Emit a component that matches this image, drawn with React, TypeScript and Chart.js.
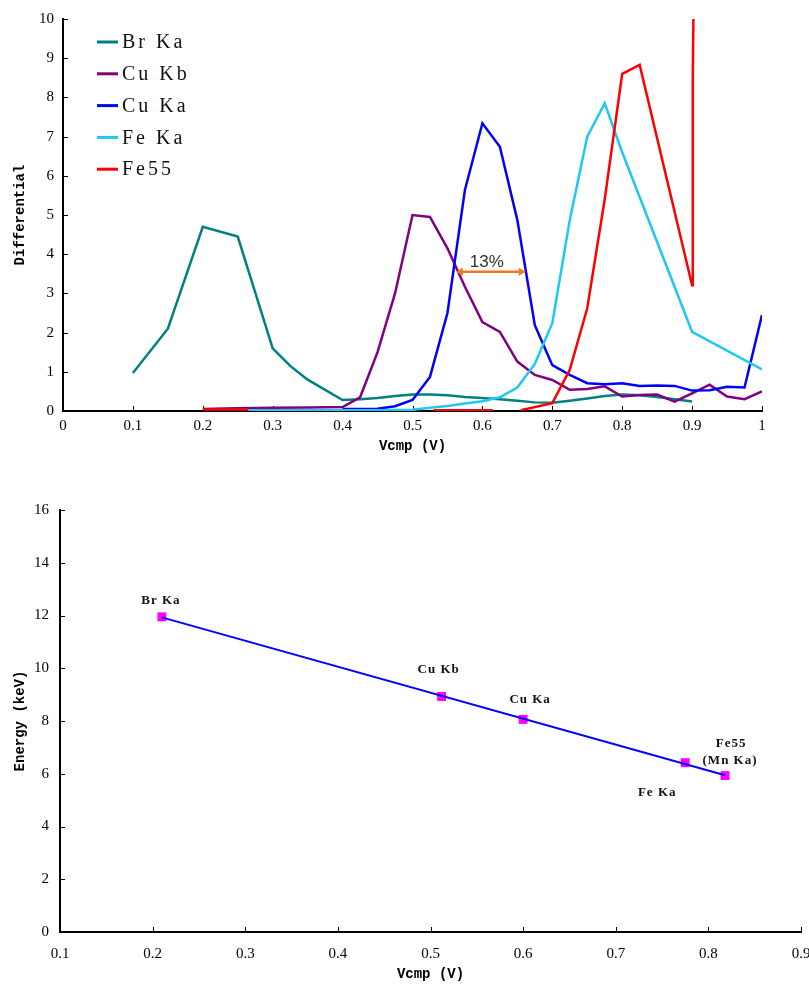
import React, { useEffect, useRef } from 'react';
import { Chart, registerables } from 'chart.js';

Chart.register(...registerables);

// ---------- Top chart data (Differential vs Vcmp) ----------
const seriesNames = ['Br Ka', 'Cu Kb', 'Cu Ka', 'Fe Ka', 'Fe55'];
const seriesColors = ['#008080', '#800080', '#0000ff', '#1ec8f0', '#ff0000'];

const brKaX = [0.1, 0.15, 0.2, 0.25, 0.3, 0.325, 0.35, 0.4, 0.425, 0.45, 0.475, 0.5, 0.525, 0.55, 0.575, 0.6, 0.625, 0.65, 0.675, 0.7, 0.725, 0.75, 0.775, 0.8, 0.825, 0.85, 0.875, 0.9];
const brKaY = [0.97, 2.1, 4.7, 4.45, 1.6, 1.15, 0.8, 0.28, 0.3, 0.33, 0.38, 0.42, 0.42, 0.4, 0.36, 0.33, 0.3, 0.26, 0.22, 0.21, 0.26, 0.32, 0.38, 0.42, 0.4, 0.36, 0.3, 0.24];

const cuKbX = [0.2, 0.25, 0.3, 0.35, 0.4, 0.425, 0.45, 0.475, 0.5, 0.525, 0.55, 0.575, 0.6, 0.625, 0.65, 0.675, 0.7, 0.725, 0.75, 0.775, 0.8, 0.825, 0.85, 0.875, 0.9, 0.925, 0.95, 0.975, 1.0];
const cuKbY = [0.05, 0.07, 0.08, 0.09, 0.1, 0.35, 1.5, 3.0, 5.0, 4.95, 4.15, 3.17, 2.27, 2.02, 1.26, 0.92, 0.79, 0.54, 0.56, 0.63, 0.37, 0.41, 0.42, 0.24, 0.45, 0.67, 0.37, 0.3, 0.5];

const cuKaX = [0.4, 0.45, 0.475, 0.5, 0.525, 0.55, 0.575, 0.6, 0.625, 0.65, 0.675, 0.7, 0.725, 0.75, 0.775, 0.8, 0.825, 0.85, 0.875, 0.9, 0.925, 0.95, 0.975, 1.0];
const cuKaY = [0.05, 0.06, 0.12, 0.28, 0.87, 2.5, 5.64, 7.34, 6.74, 4.87, 2.19, 1.17, 0.92, 0.71, 0.68, 0.71, 0.64, 0.65, 0.64, 0.52, 0.53, 0.62, 0.6, 2.45];

const feKaX = [0.265, 0.3, 0.35, 0.4, 0.45, 0.5, 0.525, 0.55, 0.575, 0.6, 0.625, 0.65, 0.675, 0.7, 0.725, 0.75, 0.775, 0.8, 0.9, 1.0];
const feKaY = [0.02, 0.02, 0.02, 0.02, 0.02, 0.03, 0.08, 0.13, 0.19, 0.25, 0.35, 0.6, 1.2, 2.24, 4.87, 7.0, 7.85, 6.6, 2.02, 1.06];

const fe55X = [0.2, 0.265, 0.27, 0.53, 0.615, 0.62, 0.655, 0.7, 0.725, 0.75, 0.775, 0.8, 0.825, 0.9, 0.901, 0.903];
const fe55Y = [0.04, 0.04, null, 0.02, 0.02, null, 0.02, 0.2, 1.05, 2.62, 5.4, 8.6, 8.83, 3.21, 8.5, 12];

const seriesX = [brKaX, cuKbX, cuKaX, feKaX, fe55X];
const seriesY = [brKaY, cuKbY, cuKaY, feKaY, fe55Y];

// FWHM annotation
const arrowX = [0.562, 0.662];
const arrowY = 3.55;
const arrowLabel = '13%';

// ---------- Bottom chart data (Energy vs Vcmp) ----------
const peakNames = ['Br Ka', 'Cu Kb', 'Cu Ka', 'Fe Ka', 'Fe55'];
const peakSubNames = ['', '', '', '', '(Mn Ka)'];
const peakVcmp = [0.21, 0.512, 0.6, 0.775, 0.818];
const peakEnergy = [11.95, 8.93, 8.06, 6.42, 5.93];

const fmtTick = (v: number) => String(Math.round(Number(v) * 10) / 10);

const TICK_FONT = { family: 'Liberation Serif', size: 15 };
const TITLE_FONT = { family: 'Liberation Mono', size: 14, weight: 'bold' as const };

const innerTicks = {
  id: 'innerTicks',
  beforeDatasetsDraw(chart: any) {
    const { ctx, chartArea } = chart;
    const xs = chart.scales.x;
    const ys = chart.scales.y;
    ctx.save();
    ctx.strokeStyle = '#000';
    ctx.lineWidth = 1;
    xs.ticks.forEach((_t: any, i: number) => {
      const px = Math.round(xs.getPixelForTick(i)) + 0.5;
      ctx.beginPath();
      ctx.moveTo(px, chartArea.bottom);
      ctx.lineTo(px, chartArea.bottom - 5);
      ctx.stroke();
    });
    ys.ticks.forEach((_t: any, i: number) => {
      const py = Math.round(ys.getPixelForTick(i)) + 0.5;
      ctx.beginPath();
      ctx.moveTo(chartArea.left, py);
      ctx.lineTo(chartArea.left + 5, py);
      ctx.stroke();
    });
    ctx.restore();
  },
};

const customLegend = {
  id: 'customLegend',
  afterDraw(chart: any) {
    const { ctx, chartArea } = chart;
    ctx.save();
    ctx.font = '20px "Liberation Serif"';
    (ctx as any).letterSpacing = '3px';
    ctx.textAlign = 'left';
    ctx.textBaseline = 'middle';
    seriesNames.forEach((name, i) => {
      const y = chartArea.top + 23 + i * 31.8;
      const x0 = chartArea.left + 34;
      ctx.strokeStyle = seriesColors[i];
      ctx.lineWidth = 3;
      ctx.beginPath();
      ctx.moveTo(x0, y);
      ctx.lineTo(x0 + 21, y);
      ctx.stroke();
      ctx.fillStyle = '#111';
      ctx.fillText(name, x0 + 25, y + 1);
    });
    ctx.restore();
  },
};

const fwhmArrow = {
  id: 'fwhmArrow',
  afterDatasetsDraw(chart: any) {
    const { ctx } = chart;
    const xs = chart.scales.x;
    const ys = chart.scales.y;
    const x1 = xs.getPixelForValue(arrowX[0]);
    const x2 = xs.getPixelForValue(arrowX[1]);
    const y = ys.getPixelForValue(arrowY);
    const col = '#f07820';
    ctx.save();
    ctx.strokeStyle = col;
    ctx.fillStyle = col;
    ctx.lineWidth = 2.5;
    ctx.beginPath();
    ctx.moveTo(x1 + 4, y);
    ctx.lineTo(x2 - 4, y);
    ctx.stroke();
    const head = (xt: number, dir: number) => {
      ctx.beginPath();
      ctx.moveTo(xt, y);
      ctx.lineTo(xt + dir * 7, y - 4);
      ctx.lineTo(xt + dir * 7, y + 4);
      ctx.closePath();
      ctx.fill();
    };
    head(x1, 1);
    head(x2, -1);
    ctx.fillStyle = '#333';
    ctx.font = '17px "Liberation Sans"';
    ctx.textAlign = 'center';
    ctx.textBaseline = 'middle';
    ctx.fillText(arrowLabel, (x1 + x2) / 2 - 4, y - 10);
    ctx.restore();
  },
};

const labelOffsets = [
  [-1, -16],
  [-3, -27],
  [7, -20],
  [-28, 30],
  [6, -32],
];

const pointLabels = {
  id: 'pointLabels',
  afterDatasetsDraw(chart: any) {
    const { ctx } = chart;
    const meta = chart.getDatasetMeta(1);
    ctx.save();
    ctx.font = 'bold 13px "Liberation Serif"';
    (ctx as any).letterSpacing = '1px';
    ctx.fillStyle = '#111';
    ctx.textAlign = 'center';
    ctx.textBaseline = 'middle';
    meta.data.forEach((el: any, i: number) => {
      const [dx, dy] = labelOffsets[i];
      ctx.fillText(peakNames[i], el.x + dx, el.y + dy);
      if (peakSubNames[i]) ctx.fillText(peakSubNames[i], el.x + dx - 1, el.y + dy + 17);
    });
    ctx.restore();
  },
};

function TopChart() {
  const ref = useRef<HTMLCanvasElement>(null);
  useEffect(() => {
    if (!ref.current) return;
    const datasets = seriesNames.map((name, i) => ({
      label: name,
      data: seriesX[i].map((x, j) => ({ x, y: seriesY[i][j] })),
      borderColor: seriesColors[i],
      backgroundColor: seriesColors[i],
      borderWidth: 2.5,
      pointRadius: 0,
      showLine: true,
      tension: 0,
      spanGaps: false,
      order: seriesNames.length - i,
    }));
    const chart = new Chart(ref.current, {
      type: 'scatter',
      data: { datasets: datasets as any },
      options: {
        animation: false,
        responsive: false,
        devicePixelRatio: 1,
        layout: { padding: { left: 0, right: 47, top: 19, bottom: 0 } },
        plugins: { legend: { display: false }, tooltip: { enabled: false } },
        scales: {
          x: {
            type: 'linear',
            min: 0,
            max: 1,
            afterFit: (s: any) => { s.height = 49; },
            grid: { display: false, drawTicks: false },
            border: { display: true, color: '#000', width: 2 },
            ticks: { stepSize: 0.1, padding: 6, color: '#000', font: TICK_FONT, callback: (v: any) => fmtTick(v), maxRotation: 0 },
            title: { display: true, text: 'Vcmp (V)', color: '#000', font: TITLE_FONT, padding: { top: 0, bottom: 5 } },
          },
          y: {
            type: 'linear',
            min: 0,
            max: 10,
            afterFit: (s: any) => { s.width = 63; },
            grid: { display: false, drawTicks: false },
            border: { display: true, color: '#000', width: 2 },
            ticks: { stepSize: 1, padding: 9, color: '#000', font: TICK_FONT },
            title: { display: true, text: 'Differential', color: '#000', font: TITLE_FONT, padding: { top: 12, bottom: 0 } },
          },
        },
      },
      plugins: [innerTicks, customLegend, fwhmArrow],
    });
    return () => chart.destroy();
  }, []);
  return <canvas ref={ref} width={809} height={460} style={{ position: 'absolute', left: 0, top: 0 }} />;
}

function BottomChart() {
  const ref = useRef<HTMLCanvasElement>(null);
  useEffect(() => {
    if (!ref.current) return;
    const n = peakVcmp.length;
    const mx = peakVcmp.reduce((a, b) => a + b, 0) / n;
    const my = peakEnergy.reduce((a, b) => a + b, 0) / n;
    let sxy = 0;
    let sxx = 0;
    for (let i = 0; i < n; i++) {
      sxy += (peakVcmp[i] - mx) * (peakEnergy[i] - my);
      sxx += (peakVcmp[i] - mx) ** 2;
    }
    const slope = sxy / sxx;
    const icpt = my - slope * mx;
    const xmin = Math.min(...peakVcmp);
    const xmax = Math.max(...peakVcmp);
    const chart = new Chart(ref.current, {
      type: 'scatter',
      data: {
        datasets: [
          {
            label: 'fit',
            data: [
              { x: xmin, y: icpt + slope * xmin },
              { x: xmax, y: icpt + slope * xmax },
            ],
            showLine: true,
            borderColor: '#0000ff',
            borderWidth: 2,
            pointRadius: 0,
            order: 0,
          },
          {
            label: 'peaks',
            data: peakVcmp.map((x, i) => ({ x, y: peakEnergy[i] })),
            showLine: false,
            pointStyle: 'rect',
            pointRadius: 6.3,
            backgroundColor: '#ff00ff',
            borderColor: '#ff00ff',
            borderWidth: 0,
            order: 1,
          },
        ] as any,
      },
      options: {
        animation: false,
        responsive: false,
        devicePixelRatio: 1,
        layout: { padding: { left: 0, right: 39, top: 30, bottom: 0 } },
        plugins: { legend: { display: false }, tooltip: { enabled: false } },
        scales: {
          x: {
            type: 'linear',
            min: 0.1,
            max: 0.9,
            afterFit: (s: any) => { s.height = 56; },
            grid: { display: false, drawTicks: false },
            border: { display: true, color: '#000', width: 2 },
            ticks: { stepSize: 0.1, padding: 13, color: '#000', font: TICK_FONT, callback: (v: any) => fmtTick(v), maxRotation: 0 },
            title: { display: true, text: 'Vcmp (V)', color: '#000', font: TITLE_FONT, padding: { top: 0, bottom: 5 } },
          },
          y: {
            type: 'linear',
            min: 0,
            max: 16,
            afterFit: (s: any) => { s.width = 60; },
            grid: { display: false, drawTicks: false },
            border: { display: true, color: '#000', width: 2 },
            ticks: { stepSize: 2, padding: 11, color: '#000', font: TICK_FONT },
            title: { display: true, text: 'Energy (keV)', color: '#000', font: TITLE_FONT, padding: { top: 12, bottom: 0 } },
          },
        },
      },
      plugins: [innerTicks, pointLabels],
    });
    return () => chart.destroy();
  }, []);
  return <canvas ref={ref} width={840} height={508} style={{ position: 'absolute', left: 0, top: 480 }} />;
}

export default function App() {
  return (
    <div style={{ position: 'absolute', left: 0, top: 0, width: 809, height: 988, background: '#fff', overflow: 'hidden' }}>
      <TopChart />
      <BottomChart />
    </div>
  );
}
